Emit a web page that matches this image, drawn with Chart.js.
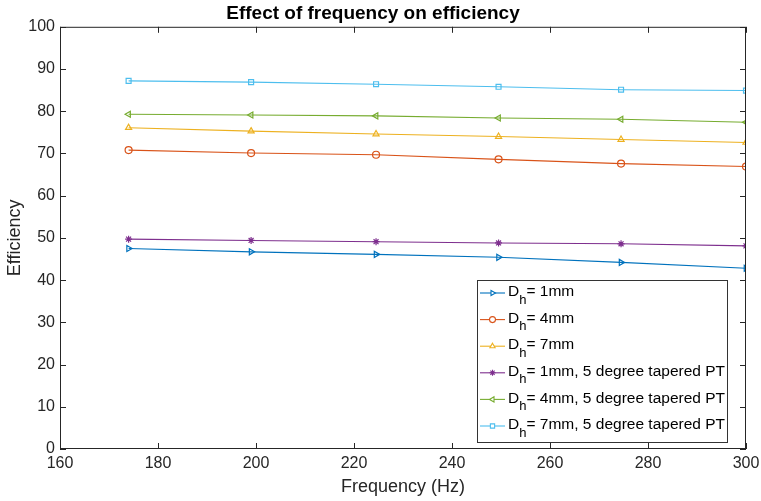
<!DOCTYPE html>
<html>
<head>
<meta charset="utf-8">
<script src="https://cdn.jsdelivr.net/npm/chart.js@4/dist/chart.umd.min.js"></script>
<style>
  html, body { margin: 0; padding: 0; background: #fff; }
  #wrap { width: 761px; height: 501px; }
</style>
</head>
<body>
<div id="wrap"><canvas id="effChart"></canvas></div>
<script>
// data
const frequency = [174, 199, 224.5, 249.5, 274.5, 300];
const dh1 = [47.5, 46.7, 46.1, 45.4, 44.2, 42.8];
const dh4 = [70.8, 70.1, 69.7, 68.6, 67.6, 66.9];
const dh7 = [76.1, 75.3, 74.6, 74.0, 73.3, 72.6];
const dh1Taper = [49.7, 49.4, 49.1, 48.8, 48.6, 48.1];
const dh4Taper = [79.3, 79.1, 78.9, 78.4, 78.1, 77.4];
const dh7Taper = [87.2, 86.9, 86.4, 85.8, 85.1, 84.9];
const legendLabels = ["= 1mm", "= 4mm", "= 7mm",
  "= 1mm, 5 degree tapered PT", "= 4mm, 5 degree tapered PT", "= 7mm, 5 degree tapered PT"];

const FONT = "'Liberation Sans', Arial, sans-serif";
const AX = "#262626";

function pts(ys) {
  return ys.map((y, i) => ({ x: frequency[i], y: y }));
}
function series(label, ys, color, style, rot) {
  return {
    label: label,
    data: pts(ys),
    borderColor: color,
    backgroundColor: "rgba(0,0,0,0)",
    borderWidth: 1.1,
    pointStyle: style,
    pointRotation: rot || 0,
    pointRadius: 3.5,
    pointBorderWidth: 1.2,
    pointBorderColor: color,
    pointBackgroundColor: "rgba(0,0,0,0)",
    tension: 0,
  };
}

// MATLAB-style box with inward ticks plus the legend with D_h subscript
const boxAndLegend = {
  id: "boxAndLegend",
  afterDraw(chart) {
    const ctx = chart.ctx;
    const a = chart.chartArea;
    const xs = chart.scales.x, ys = chart.scales.y;
    ctx.save();
    ctx.strokeStyle = AX;
    ctx.lineWidth = 1;
    ctx.strokeRect(a.left + 0.5, a.top + 0.5, a.right - a.left - 1, a.bottom - a.top - 1);
    ctx.beginPath();
    xs.ticks.forEach(t => {
      const px = Math.round(xs.getPixelForValue(t.value)) + 0.5;
      ctx.moveTo(px, a.bottom); ctx.lineTo(px, a.bottom - 6);
      ctx.moveTo(px, a.top); ctx.lineTo(px, a.top + 6);
    });
    ys.ticks.forEach(t => {
      const py = Math.round(ys.getPixelForValue(t.value)) + 0.5;
      ctx.moveTo(a.left, py); ctx.lineTo(a.left + 6, py);
      ctx.moveTo(a.right, py); ctx.lineTo(a.right - 6, py);
    });
    ctx.stroke();

    // legend
    const w = 250, h = 162;
    const lx = a.right - 19 - w, ly = a.bottom - 7 - h;
    ctx.fillStyle = "#fff";
    ctx.fillRect(lx, ly, w, h);
    ctx.strokeStyle = "#333";
    ctx.strokeRect(lx + 0.5, ly + 0.5, w, h);
    chart.data.datasets.forEach((ds, i) => {
      const cy = ly + 13 + i * 26.6;
      ctx.strokeStyle = ds.borderColor;
      ctx.lineWidth = 1.1;
      ctx.beginPath();
      ctx.moveTo(lx + 3, cy); ctx.lineTo(lx + 28, cy);
      ctx.stroke();
      ctx.fillStyle = "#fff";
      Chart.helpers.drawPoint(ctx, {
        pointStyle: ds.pointStyle, rotation: ds.pointRotation,
        radius: 3, borderWidth: 1.2
      }, lx + 15.5, cy);
      ctx.fillStyle = "#000";
      ctx.textBaseline = "middle";
      ctx.textAlign = "left";
      ctx.font = "15.5px " + FONT;
      let tx = lx + 31;
      ctx.fillText("D", tx, cy - 1);
      tx += ctx.measureText("D").width;
      ctx.font = "13px " + FONT;
      ctx.fillText("h", tx, cy + 7);
      tx += ctx.measureText("h").width;
      ctx.font = "15.5px " + FONT;
      ctx.fillText(legendLabels[i], tx, cy - 1);
    });
    ctx.restore();
  }
};

new Chart(document.getElementById("effChart"), {
  type: "line",
  data: {
    datasets: [
      series("Dh = 1mm", dh1, "#0072BD", "triangle", 90),
      series("Dh = 4mm", dh4, "#D95319", "circle"),
      series("Dh = 7mm", dh7, "#EDB120", "triangle"),
      series("Dh = 1mm, 5 degree tapered PT", dh1Taper, "#7E2F8E", "star"),
      series("Dh = 4mm, 5 degree tapered PT", dh4Taper, "#77AC30", "triangle", -90),
      series("Dh = 7mm, 5 degree tapered PT", dh7Taper, "#4DBEEE", "rect"),
    ],
  },
  options: {
    responsive: true,
    maintainAspectRatio: false,
    animation: false,
    layout: { padding: { right: 15, top: 0, left: 0, bottom: 0 } },
    plugins: {
      legend: { display: false },
      tooltip: { enabled: false },
      title: {
        display: true,
        text: "Effect of frequency on efficiency",
        color: "#000",
        font: { family: FONT, size: 19, weight: "bold" },
        padding: { top: 2, bottom: 2 },
      },
    },
    scales: {
      x: {
        type: "linear",
        min: 160, max: 300,
        grid: { display: false, drawTicks: false },
        border: { display: false },
        ticks: { stepSize: 20, color: AX, padding: 5, font: { family: FONT, size: 16 }, maxRotation: 0 },
        title: { display: true, text: "Frequency (Hz)", color: AX, font: { family: FONT, size: 18 }, padding: { top: 0, bottom: 3 } },
        afterFit(s) { s.height = 52; s.paddingRight = 0; s.paddingLeft = 0; },
      },
      y: {
        min: 0, max: 100,
        grid: { display: false, drawTicks: false },
        border: { display: false },
        ticks: { stepSize: 10, color: AX, padding: 5, font: { family: FONT, size: 16 } },
        title: { display: true, text: "Efficiency", color: AX, font: { family: FONT, size: 18 }, padding: { top: 4, bottom: 0 } },
        afterFit(s) { s.width = 60; s.paddingTop = 0; s.paddingBottom = 0; },
      },
    },
  },
  plugins: [boxAndLegend],
});
</script>
</body>
</html>
